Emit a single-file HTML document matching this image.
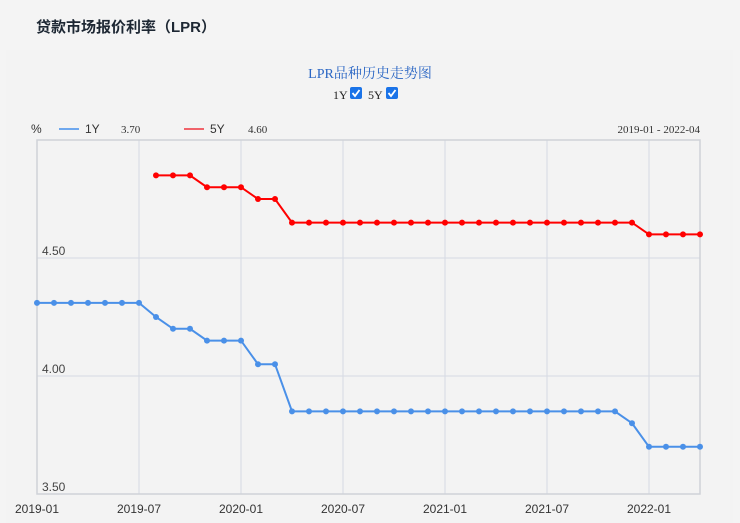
<!DOCTYPE html>
<html><head><meta charset="utf-8"><style>
body{margin:0;width:740px;height:523px;background:#f4f4f4;overflow:hidden;font-family:"Liberation Sans","Noto Sans CJK SC",sans-serif;}
#title{position:absolute;left:36px;top:16px;font-size:15px;font-weight:bold;color:#1d2733;}
#card{position:absolute;left:6px;top:50px;width:727px;height:473px;background:#f3f3f3;}
</style></head><body>
<div id="title">贷款市场报价利率（LPR）</div>
<div id="card"></div>
<svg id="c" width="740" height="523" style="position:absolute;left:0;top:0"></svg>
<script>
const months=[];for(let y=2019;y<=2022;y++)for(let m=1;m<=12;m++){if(y==2022&&m>4)break;months.push(y+'-'+String(m).padStart(2,'0'));}
const oneY=[4.31,4.31,4.31,4.31,4.31,4.31,4.31,4.25,4.20,4.20,4.15,4.15,4.15,4.05,4.05,3.85,3.85,3.85,3.85,3.85,3.85,3.85,3.85,3.85,3.85,3.85,3.85,3.85,3.85,3.85,3.85,3.85,3.85,3.85,3.85,3.80,3.70,3.70,3.70,3.70];
const fiveY=[null,null,null,null,null,null,null,4.85,4.85,4.85,4.80,4.80,4.80,4.75,4.75,4.65,4.65,4.65,4.65,4.65,4.65,4.65,4.65,4.65,4.65,4.65,4.65,4.65,4.65,4.65,4.65,4.65,4.65,4.65,4.65,4.65,4.60,4.60,4.60,4.60];
const yTicks=[3.5,4.0,4.5];
const yTickLabels=['3.50','4.00','4.50'];
const xTickLabels=['2019-01','2019-07','2020-01','2020-07','2021-01','2021-07','2022-01'];
const L=37,R=700,T=140,B=494,yMin=3.5,yMax=5.0;
const x=i=>L+i*(R-L)/(months.length-1);
const y=v=>B-(v-yMin)/(yMax-yMin)*(B-T);
const svg=document.getElementById('c');const NS='http://www.w3.org/2000/svg';
function mk(t,a,txt){const e=document.createElementNS(NS,t);for(const k in a)e.setAttribute(k,a[k]);if(txt!==undefined)e.textContent=txt;svg.appendChild(e);return e;}
let e;
e=mk('text',{x:370,y:78,'text-anchor':'middle','font-size':14,fill:'#2a66c4','font-family':'Liberation Serif,Noto Serif CJK SC,serif'},'LPR品种历史走势图');

e=mk('text',{x:333,y:99,'font-size':12,fill:'#222','font-family':'Liberation Serif,serif'},'1Y');
e=mk('rect',{x:350,y:87,width:12,height:12,rx:2,fill:'#1a73e8'});
mk('path',{d:'M352.5 93 l2.5 3 l4.5 -6',stroke:'#fff','stroke-width':1.8,fill:'none'});
e=mk('text',{x:368,y:99,'font-size':12,fill:'#222','font-family':'Liberation Serif,serif'},'5Y');
e=mk('rect',{x:386,y:87,width:12,height:12,rx:2,fill:'#1a73e8'});
mk('path',{d:'M388.5 93 l2.5 3 l4.5 -6',stroke:'#fff','stroke-width':1.8,fill:'none'});
e=mk('text',{x:31,y:133,'font-size':12,fill:'#333'},'%');
e=mk('line',{x1:59,y1:129,x2:79,y2:129,stroke:'#6fa8ee','stroke-width':2});
e=mk('text',{x:85,y:133,'font-size':12,fill:'#333'},'1Y');
e=mk('text',{x:121,y:133,'font-size':11,fill:'#333','font-family':'Liberation Serif,serif'},oneY[oneY.length-1].toFixed(2));
e=mk('line',{x1:184,y1:129,x2:204,y2:129,stroke:'#f0636a','stroke-width':2});
e=mk('text',{x:210,y:133,'font-size':12,fill:'#333'},'5Y');
e=mk('text',{x:248,y:133,'font-size':11,fill:'#333','font-family':'Liberation Serif,serif'},fiveY[fiveY.length-1].toFixed(2));
e=mk('text',{x:700,y:133,'text-anchor':'end','font-size':11,fill:'#333','font-family':'Liberation Serif,serif'},months[0]+' - '+months[months.length-1]);
// grid
for(let i=0;i<months.length;i+=6){e=mk('line',{x1:x(i),y1:T,x2:x(i),y2:B,stroke:'#d6dae3','stroke-width':1});}
yTicks.forEach((v,i)=>{e=mk('line',{x1:L,y1:y(v),x2:R,y2:y(v),stroke:'#d6dae3','stroke-width':1});
e=mk('text',{x:L+5,y:y(v)-3,'font-size':12,fill:'#444'},yTickLabels[i]);});
e=mk('rect',{x:L,y:T,width:R-L,height:B-T,fill:'none',stroke:'#cfd2d8','stroke-width':1.5});
xTickLabels.forEach((s,i)=>{e=mk('text',{x:x(i*6),y:513,'text-anchor':'middle','font-size':12,fill:'#333'},s);});
function series(vals,color,name){let d='';vals.forEach((v,i)=>{if(v==null)return;d+=(d?'L':'M')+x(i)+' '+y(v);});
e=mk('path',{d,stroke:color,'stroke-width':2,fill:'none'});
vals.forEach((v,i)=>{if(v==null)return;e=mk('circle',{cx:x(i),cy:y(v),r:3,fill:color});});}
series(oneY,'#4a90e8','series-1y');
series(fiveY,'#ff0000','series-5y');
</script>
</body></html>
